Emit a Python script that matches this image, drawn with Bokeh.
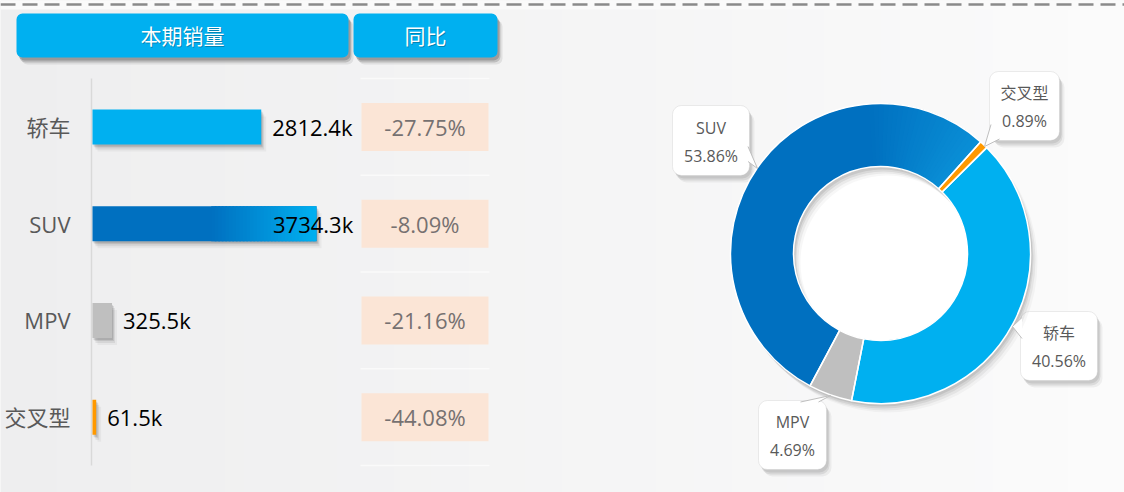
import numpy as np
from bokeh.plotting import figure
from bokeh.models import Range1d, BoxAnnotation
from bokeh.core.properties import value
from bokeh.embed import file_html
from bokeh.resources import INLINE

# ---------------- data ----------------
categories = ["轿车", "SUV", "MPV", "交叉型"]
sales_k = [2812.4, 3734.3, 325.5, 61.5]
yoy_pct = [-27.75, -8.09, -21.16, -44.08]
colors = ["#00b0f0", "#0070c0", "#bfbfbf", "#ff9900"]
headers = ["本期销量", "同比"]
donut_order = ["轿车", "MPV", "SUV", "交叉型"]

# ---------------- layout / style ----------------
FONT = value("Open Sans, Noto Sans CJK SC")
W, H = 1124, 492
OX, OY = 0, 0

def hex2rgb(h):
    h = h.lstrip("#")
    return np.array([int(h[i:i + 2], 16) for i in (0, 2, 4)], dtype=float)

def rgb2hex(c):
    return "#%02x%02x%02x" % tuple(int(round(v)) for v in c)

def mix(c1, c2, t):
    return rgb2hex(hex2rgb(c1) * (1 - t) + hex2rgb(c2) * t)

p = figure(width=W, height=H, x_range=Range1d(OX, OX + W), y_range=Range1d(OY + H, OY),
           output_backend="svg", toolbar_location=None, min_border=0,
           x_axis_type=None, y_axis_type=None,
           background_fill_color="#f3f3f3", border_fill_color="#f3f3f3")
p.outline_line_color = None
p.grid.visible = False

# background horizontal gradient (drawn at image level, below everything)
NB = 60
bx = np.linspace(OX, OX + W, NB + 1)
p.quad(left=bx[:-1], right=bx[1:] + 1, top=OY, bottom=OY + H,
       fill_color=[mix("#eeeeef", "#fbfbfb", i / (NB - 1)) for i in range(NB)], line_color=None,
       level="image")
p.quad(left=OX, right=OX + W, top=OY, bottom=OY + 9, fill_color="#fafafa", line_color=None,
       level="image")
# dashed line on top
p.segment(x0=OX, y0=4, x1=OX + W, y1=4, line_color="#8a8a8a", line_width=2.5, line_dash="15 7")

# ---------------- header boxes ----------------
hdr_boxes = [(16, 348), (353, 497)]
HDR_T, HDR_B = 13, 57
for (l, r), txt in zip(hdr_boxes, headers):
    for dx, dy, a in [(2, 3, 0.18), (3, 5, 0.15), (5, 7, 0.08)]:
        p.add_layout(BoxAnnotation(left=l + dx, right=r + dx, top=HDR_T + dy, bottom=HDR_B + dy,
                                   fill_color="#000000", fill_alpha=a, line_color=None,
                                   border_radius=6, level="underlay"))
    p.add_layout(BoxAnnotation(left=l, right=r, top=HDR_T, bottom=HDR_B, fill_color="#00b0f0",
                               fill_alpha=1, line_color=None, border_radius=6, level="underlay"))
    p.text(x=[(l + r) / 2 + 1], y=[(HDR_T + HDR_B) / 2 + 1], text=[txt], text_align="center",
           text_baseline="middle", text_font=FONT, text_font_size="21px", text_color="#000000",
           text_alpha=0.25)
    p.text(x=[(l + r) / 2], y=[(HDR_T + HDR_B) / 2], text=[txt], text_align="center",
           text_baseline="middle", text_font=FONT, text_font_size="21px", text_color="#ffffff")

# ---------------- bar chart ----------------
BAR_X0 = 92          # pixel where 0 sits
PXU = 0.06           # pixels per k
p.extra_x_ranges = {"bar": Range1d((OX - BAR_X0) / PXU, (OX + W - BAR_X0) / PXU)}
ROW_TOP, ROW_H = 78, 96.75
row_y = np.array([ROW_TOP + (i + 0.5) * ROW_H for i in range(len(categories))])
BAR_H = 35
sales = np.array(sales_k)

# axis line
p.segment(x0=91, y0=ROW_TOP, x1=91, y1=ROW_TOP + 4 * ROW_H, line_color="#d9d9d9", line_width=1.5)

# bar shadows
for dx, dy, a in [(1, 2, 0.10), (2, 3, 0.09), (3, 5, 0.07), (5, 7, 0.04)]:
    p.hbar(y=row_y + dy, left=dx / PXU, right=sales + dx / PXU, height=BAR_H,
           x_range_name="bar", fill_color="#000000", fill_alpha=a, line_color=None)
# bars
p.hbar(y=row_y, left=0, right=sales, height=BAR_H, x_range_name="bar",
       fill_color=colors, line_color=None)
# gradient on the SUV bar end
gi = categories.index("SUV")
NG = 30
g0 = 0.53
edges = sales[gi] * (g0 + (1 - g0) * np.arange(NG + 1) / NG)
p.hbar(y=[row_y[gi]] * NG, left=edges[:-1], right=np.minimum(edges[1:] + (edges[1] - edges[0]) * 0.5, sales[gi]),
       height=BAR_H, x_range_name="bar",
       fill_color=[mix("#0070c0", "#00b0f0", (i + 0.5) / NG) for i in range(NG)], line_color=None)

# value labels
LABEL_MAX_K = 2825
p.text(x=np.minimum(sales, LABEL_MAX_K), y=row_y, x_offset=11,
       text=[f"{v:.1f}k" for v in sales_k], x_range_name="bar",
       text_baseline="middle", text_font=FONT, text_font_size="22px", text_color="#000000")
# category labels
p.text(x=[70] * 4, y=row_y, text=categories, text_align="right", text_baseline="middle",
       text_font=FONT, text_font_size="22px", text_color="#595959")

# YoY column
YL, YR = 361, 488
p.segment(x0=[360] * 5, y0=[ROW_TOP + i * ROW_H for i in range(5)],
          x1=[489] * 5, y1=[ROW_TOP + i * ROW_H for i in range(5)],
          line_color="#ffffff", line_alpha=0.6, line_width=1.5)
p.quad(left=YL, right=YR, top=row_y - 24, bottom=row_y + 24, fill_color="#fbe5d6", line_color=None)
p.text(x=[(YL + YR) / 2] * 4, y=row_y, text=[f"{v:.2f}%" for v in yoy_pct],
       text_align="center", text_baseline="middle", text_font=FONT,
       text_font_size="22px", text_color="#767171")

# ---------------- donut ----------------
CX, CY = 880, 253
R_OUT, R_IN = 150, 87
THETA0 = 45.1   # clockwise from 12 o'clock
total = sum(sales_k)
idx = [categories.index(c) for c in donut_order]
shares = [sales_k[i] / total * 100 for i in idx]
spans = [s * 3.6 for s in shares]
th_start = THETA0 + np.concatenate([[0], np.cumsum(spans)[:-1]])
th_end = th_start + np.array(spans)
to_rad = lambda th: np.deg2rad(90 - th)

# white hole
p.circle(x=CX, y=CY, radius=R_IN, fill_color="#ffffff", line_color=None)
# donut shadow
for dx, dy, a in [(2, 3, 0.08), (3, 5, 0.07), (5, 7, 0.05), (7, 9, 0.03)]:
    p.annulus(x=CX + dx, y=CY + dy, inner_radius=R_IN, outer_radius=R_OUT,
              fill_color="#000000", fill_alpha=a, line_color=None)
# slices
p.annular_wedge(x=CX, y=CY, inner_radius=R_IN, outer_radius=R_OUT,
                start_angle=to_rad(th_start), end_angle=to_rad(th_end), direction="clock",
                fill_color=[colors[i] for i in idx], line_color=None)
# gradient on the SUV slice end
k = donut_order.index("SUV")
NS = 24
gs = th_start[k] + spans[k] * (0.76 + 0.24 * np.arange(NS + 1) / NS)
p.annular_wedge(x=CX, y=CY, inner_radius=R_IN, outer_radius=R_OUT,
                start_angle=to_rad(gs[:-1]), end_angle=to_rad(np.minimum(gs[1:] + 0.6, th_end[k])),
                direction="clock",
                fill_color=[mix("#0070c0", "#0a8fd6", (i + 0.5) / NS) for i in range(NS)],
                line_color=None)
# white outlines
p.annular_wedge(x=CX, y=CY, inner_radius=R_IN, outer_radius=R_OUT,
                start_angle=to_rad(th_start), end_angle=to_rad(th_end), direction="clock",
                fill_alpha=0, line_color="#ffffff", line_width=1.5)

# callouts (layout of the label boxes)
callouts = {
    "SUV":  dict(l=672, r=749, t=105, b=175, base=[(747.5, 146), (747.5, 161)], tip=(757, 168)),
    "交叉型": dict(l=989, r=1059, t=71, b=140, base=[(990.5, 124), (999, 138.5)], tip=(984, 146)),
    "轿车":  dict(l=1020, r=1097, t=311, b=380, base=[(1021.5, 317), (1021.5, 338)], tip=(1012, 326)),
    "MPV":  dict(l=758, r=826, t=400, b=469, base=[(800, 401.5), (818, 401.5)], tip=(830, 395)),
}
for name, c in callouts.items():
    for dx, dy, a in [(2, 3, 0.08), (3, 5, 0.08), (5, 7, 0.05)]:
        p.add_layout(BoxAnnotation(left=c["l"] + dx, right=c["r"] + dx, top=c["t"] + dy,
                                   bottom=c["b"] + dy, fill_color="#000000", fill_alpha=a,
                                   line_color=None, border_radius=9, level="underlay"))
    p.add_layout(BoxAnnotation(left=c["l"], right=c["r"], top=c["t"], bottom=c["b"],
                               fill_color="#ffffff", fill_alpha=1, line_color="#bfbfbf",
                               line_width=1, border_radius=9, level="underlay"))
    (bx0, by0), (bx1, by1) = c["base"]
    tx, ty = c["tip"]
    p.patch(x=[bx0, tx, bx1], y=[by0, ty, by1], fill_color="#ffffff", line_color=None)
    p.multi_line(xs=[[bx0, tx], [tx, bx1]], ys=[[by0, ty], [ty, by1]], line_color="#bfbfbf", line_width=1)
    i = categories.index(name)
    cxm, cym = (c["l"] + c["r"]) / 2, (c["t"] + c["b"]) / 2
    p.text(x=[cxm, cxm], y=[cym - 13, cym + 15],
           text=[name, f"{sales_k[i] / total * 100:.2f}%"], text_align="center",
           text_baseline="middle", text_font=FONT, text_font_size="16px", text_color="#595959")

open("out.html", "w").write(file_html(p, INLINE))
